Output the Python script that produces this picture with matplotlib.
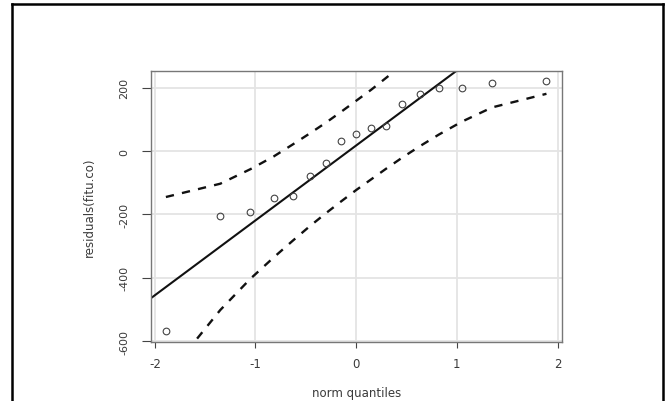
import matplotlib
matplotlib.use("Agg")
import matplotlib.pyplot as plt
from matplotlib.lines import Line2D

# normal quantiles of the 17 residuals
quantiles = [-1.89, -1.35, -1.05, -0.82, -0.63, -0.46, -0.30, -0.15, 0.0,
             0.15, 0.30, 0.46, 0.63, 0.82, 1.05, 1.35, 1.89]
residuals = [-568, -205, -193, -148, -142, -79, -37, 31, 54,
             74, 80, 148, 180, 198, 200, 215, 222]
# pointwise confidence envelope (dashed)
env_upper = [-145, -103, -57, -17, 21, 56, 90, 124, 159,
             194, 232, 273, 318, 372, 439, 537, 749]
env_lower = [-714, -502, -403, -336, -283, -237, -196, -159, -123,
             -89, -55, -20, 15, 52, 93, 138, 181]
# reference line through the quartiles
line_intercept = 17.8
line_slope = 236.6

xticks = [-2, -1, 0, 1, 2]
yticks = [-600, -400, -200, 0, 200]
xlabel = "norm quantiles"
ylabel = "residuals(fitu.co)"

plt.rcParams['font.family'] = ['DejaVu Sans']
txt = '#3a3a3a'

fig = plt.figure(figsize=(6.65, 4.02), dpi=100)
ax = fig.add_axes([0.2266, 0.1475, 0.618, 0.6734])

for x in xticks:
    ax.axvline(x, color='#e4e4e4', lw=1.3, zorder=0)
for y in yticks:
    ax.axhline(y, color='#e4e4e4', lw=1.3, zorder=0)

ax.axline((0, line_intercept), slope=line_slope, color='#111111', lw=1.5, zorder=2)
ax.plot(quantiles, env_upper, color='#111111', lw=1.7, dashes=(3.5, 3.5), zorder=2)
ax.plot(quantiles, env_lower, color='#111111', lw=1.7, dashes=(3.5, 3.5), zorder=2)
ax.plot(quantiles, residuals, 'o', mfc='none', mec='#444444', ms=4.8, mew=0.8, zorder=3)

ax.set_xlim(-2.041, 2.041)
ax.set_ylim(-602, 253)
ax.set_xticks(xticks)
ax.set_yticks(yticks)
ax.set_xticklabels([str(v) for v in xticks])
ax.set_yticklabels([str(v) for v in yticks], rotation=90, va='center')

for s in ax.spines.values():
    s.set_color('#777777')
    s.set_linewidth(1.0)

ax.tick_params(axis='x', length=4.3, width=0.8, color='#444444', pad=7,
               labelsize=8.5, labelcolor=txt)
ax.tick_params(axis='y', length=6.5, width=0.8, color='#444444', pad=9,
               labelsize=8, labelcolor=txt)

ax.set_xlabel(xlabel, fontsize=8.5, color=txt, va='center')
ax.xaxis.set_label_coords(0.5, -0.186)
ax.set_ylabel(ylabel, fontsize=8.5, color=txt, va='center')
ax.yaxis.set_label_coords(-0.149, 0.5)

# outer frame (left, top, right edges)
fig.add_artist(Line2D([0.018, 0.018], [0.0, 0.9876], color='black', lw=1.8))
fig.add_artist(Line2D([0.018, 0.9977], [0.9876, 0.9876], color='black', lw=1.8))
fig.add_artist(Line2D([0.9977, 0.9977], [0.0, 0.9876], color='black', lw=1.8))

fig.savefig('out.png', dpi=100)
